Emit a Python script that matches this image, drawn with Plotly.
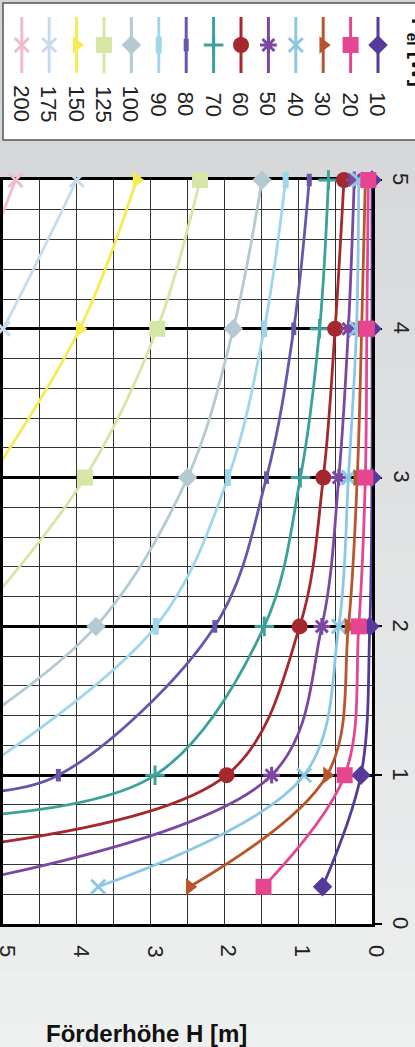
import plotly.graph_objects as go

FIG_W, FIG_H = 415, 1047

# ---------------- data ----------------
power_w = [10, 20, 30, 40, 50, 60, 70, 80, 90, 100, 125, 150, 175, 200]
flow_q = [0.25, 1, 2, 3, 4, 5]          # vertical axis values of the markers

head_10 = [0.67, 0.15, 0.03, 0.00, 0.00, 0.00]
head_20 = [1.47, 0.37, 0.18, 0.09, 0.07, 0.05]
head_30 = [2.47, 0.61, 0.32, 0.20, 0.14, 0.09]
head_40 = [3.71, 0.92, 0.45, 0.32, 0.21, 0.18]
head_50 = [None, 1.36, 0.68, 0.45, 0.32, 0.24]
head_60 = [None, 1.97, 0.98, 0.66, 0.50, 0.38]
head_70 = [None, 2.94, 1.46, 0.97, 0.71, 0.59]
head_80 = [None, 4.25, 2.13, 1.43, 1.06, 0.85]
head_90 = [None, None, 2.93, 1.95, 1.46, 1.17]
head_100 = [None, None, 3.74, 2.50, 1.88, 1.49]
head_125 = [None, None, None, 3.89, 2.91, 2.33]
head_150 = [None, None, None, None, 3.96, 3.19]
head_175 = [None, None, None, None, 5.00, 4.00]
head_200 = [None, None, None, None, None, 4.83]

# estimated continuation of each curve just beyond the H = 5 m edge (not visible)
edge_q = [None, None, None, None, 0.25, 0.50, 0.72, 0.88, 1.00, 1.30, 2.00, 2.90, 3.40, 4.40]
edge_h = [None, None, None, None, 5.80, 5.80, 5.50, 5.40, 5.40, 5.50, 5.45, 5.30, 5.70, 5.30]

axis_ticks = [0, 1, 2, 3, 4, 5]

series_heads = [head_10, head_20, head_30, head_40, head_50, head_60, head_70,
                head_80, head_90, head_100, head_125, head_150, head_175, head_200]

# ---------------- styles ----------------
colors = ["#55399b", "#e64691", "#b9552d", "#8cc8e6", "#7a48a3", "#a4282e", "#3ca09b",
          "#6a55ac", "#9fd6ec", "#b4cad2", "#d5e6a6", "#f5eb55", "#c8dbee", "#f0bccd"]
symbols = ["diamond", "square", "triangle-right", "x-thin", "asterisk", "circle", "cross-thin",
           "line-ns", "line-ns", "diamond", "square", "triangle-right", "x-thin", "x-thin"]
msizes = [15, 16, 15, 14, 14, 16, 14, 9, 12, 15, 16, 15, 14, 14]
mlines = [0, 0, 0, 3, 3, 0, 3, 5, 6, 0, 0, 0, 3, 3]

FONT = "Liberation Sans, Arial, sans-serif"
TICK_FONT = dict(family=FONT, size=22, color="#222222")

fig = go.Figure()

# ---------------- background ----------------
shapes = []
nb = 40
for k in range(nb):
    f = k / (nb - 1)
    r = int(round(211 + 27 * f))
    g = int(round(212 + 27 * f))
    b = int(round(214 + 25 * f))
    shapes.append(dict(type="rect", xref="paper", yref="paper", layer="below",
                       x0=-0.01, x1=1.01, y0=1 - (k + 1) / nb, y1=1 - k / nb,
                       fillcolor=f"rgb({r},{g},{b})", line=dict(width=0)))
# legend box
shapes.append(dict(type="rect", xref="paper", yref="paper", layer="below",
                   x0=3 / FIG_W, x1=1.05, y0=1 - 140 / FIG_H, y1=1 - 3 / FIG_H,
                   fillcolor="white", line=dict(color="#555555", width=1.5)))
# plot area
shapes.append(dict(type="rect", xref="x domain", yref="y domain", layer="below",
                   x0=0, x1=1, y0=0, y1=1, fillcolor="white", line=dict(width=0)))

# ---------------- curves ----------------
def marker_spec(i):
    c = colors[i]
    return dict(symbol=symbols[i], size=msizes[i], color=c,
                line=dict(color=c, width=mlines[i]))

order = list(range(13, 1, -1)) + [0, 1]
for i in order:
    heads = series_heads[i]
    mq = [q for q, h in zip(flow_q, heads) if h is not None]
    mh = [h for h in heads if h is not None]
    lq = ([edge_q[i]] if edge_q[i] is not None else []) + mq
    lh = ([edge_h[i]] if edge_h[i] is not None else []) + mh
    fig.add_trace(go.Scatter(x=lh, y=lq, mode="lines", showlegend=False, hoverinfo="skip",
                             line=dict(color=colors[i], width=2.8, shape="spline")))
    fig.add_trace(go.Scatter(x=mh, y=mq, mode="markers", showlegend=False, cliponaxis=False,
                             name=f"{power_w[i]} W", marker=marker_spec(i)))

# ---------------- rotated legend (drawn in pixel-space axes) ----------------
annotations = []
for i, p in enumerate(power_w):
    xc = 378 - 27.4 * i
    fig.add_trace(go.Scatter(x=[xc, xc], y=[17, 73], mode="lines", xaxis="x2", yaxis="y2",
                             showlegend=False, hoverinfo="skip",
                             line=dict(color=colors[i], width=3)))
    fig.add_trace(go.Scatter(x=[xc], y=[45], mode="markers", xaxis="x2", yaxis="y2",
                             showlegend=False, hoverinfo="skip", cliponaxis=False,
                             marker=marker_spec(i)))
    annotations.append(dict(text=str(p), x=xc, y=104, xref="x2", yref="y2", showarrow=False,
                            textangle=90, xanchor="center", yanchor="middle",
                            font=TICK_FONT))

annotations.append(dict(text="<b>P<sub>el</sub> [W]</b>", x=418 / FIG_W, y=1 - 52 / FIG_H,
                        xref="paper", yref="paper",
                        showarrow=False, textangle=90, xanchor="center", yanchor="middle",
                        font=dict(family=FONT, size=22, color="#111111")))
annotations.append(dict(text="<b>Förderhöhe H [m]</b>", x=146 / FIG_W, y=1 - 1033 / FIG_H,
                        xref="paper", yref="paper", showarrow=False,
                        xanchor="center", yanchor="middle",
                        font=dict(family=FONT, size=24, color="#111111")))

# rotated tick labels of both axes
for t in axis_ticks:
    annotations.append(dict(text=str(t), x=t, xref="x", y=1 - 951 / FIG_H, yref="paper",
                            xshift=5, showarrow=False, textangle=90,
                            xanchor="center", yanchor="middle", font=TICK_FONT))
    annotations.append(dict(text=str(t), x=401 / FIG_W, xref="paper", y=t, yref="y",
                            yshift=1, showarrow=False, textangle=90,
                            xanchor="center", yanchor="middle", font=TICK_FONT))

fig.update_layout(
    width=FIG_W, height=FIG_H,
    margin=dict(l=0, r=0, t=0, b=0, autoexpand=False),
    paper_bgcolor="#e0e1e2", plot_bgcolor="rgba(0,0,0,0)",
    font=dict(family=FONT, size=22, color="#222222"),
    shapes=shapes, annotations=annotations, hovermode=False,
    xaxis=dict(domain=[3 / FIG_W, 372 / FIG_W], range=[5, 0], tickvals=axis_ticks,
               showticklabels=False, ticks="", showgrid=True, gridcolor="#333333", gridwidth=1,
               minor=dict(dtick=0.5, showgrid=True, gridcolor="#333333", gridwidth=1),
               zeroline=False, showline=True, linecolor="black", linewidth=3, mirror=True,
               layer="below traces", anchor="y", automargin=False),
    yaxis=dict(domain=[123 / FIG_H, 867 / FIG_H], range=[0, 5], tickvals=axis_ticks, side="right",
               showticklabels=False, ticks="outside", ticklen=7, tickwidth=2, tickcolor="black",
               showgrid=True, gridcolor="black", gridwidth=2.5,
               minor=dict(dtick=0.2, showgrid=True, gridcolor="#333333", gridwidth=1),
               zeroline=False, showline=True, linecolor="black", linewidth=3, mirror=True,
               layer="below traces", anchor="x", automargin=False),
    xaxis2=dict(domain=[0, 1], range=[0, FIG_W], visible=False, anchor="y2", fixedrange=True),
    yaxis2=dict(domain=[0, 1], range=[FIG_H, 0], visible=False, anchor="x2", fixedrange=True),
)

fig.write_html("out.html", config={"displayModeBar": False},
               post_script="document.body.style.margin='0px';")
